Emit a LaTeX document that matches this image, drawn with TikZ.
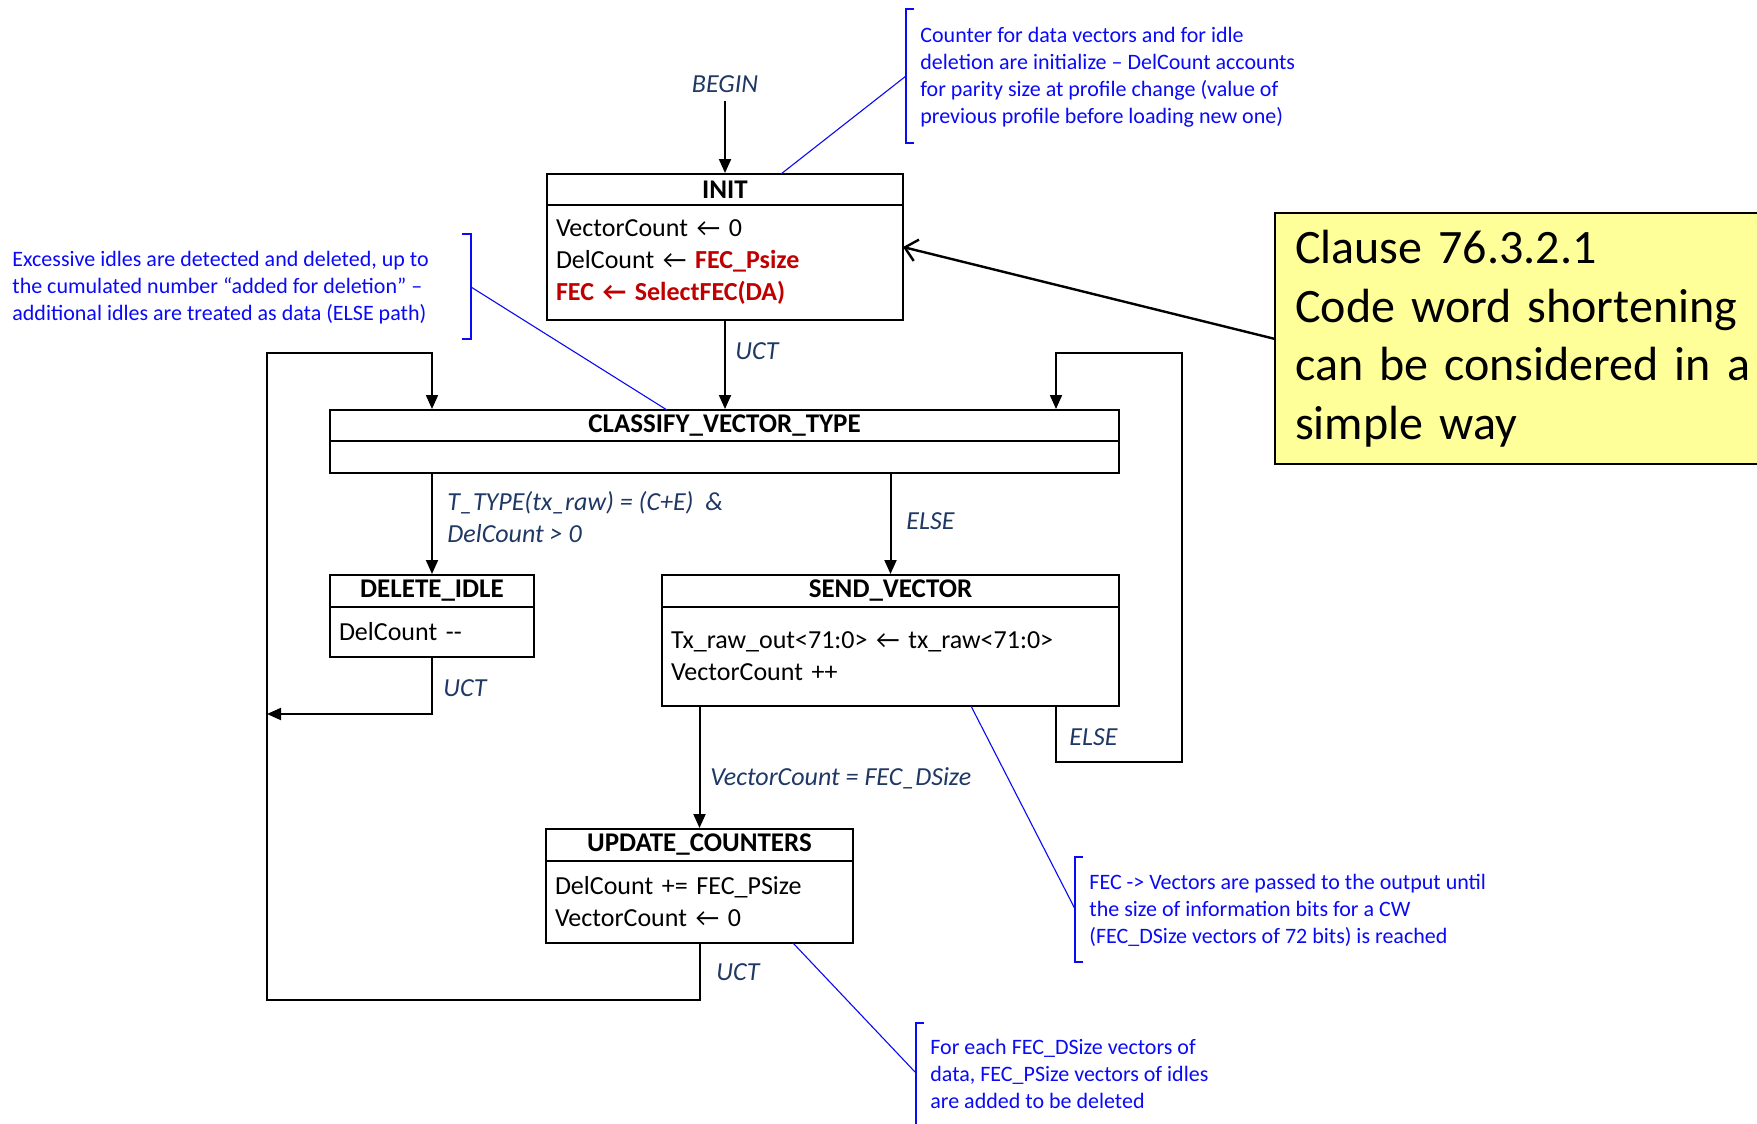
\documentclass[tikz,border=0pt]{standalone}
\usepackage{fontspec}
\setmainfont{Carlito}
\usetikzlibrary{arrows.meta,calc}
\definecolor{lblue}{RGB}{31,56,100}
\definecolor{ablue}{RGB}{10,10,245}
\definecolor{fecred}{RGB}{192,0,0}
\definecolor{yel}{RGB}{255,255,153}
\newcommand\larr{←}
\begin{document}
\begin{tikzpicture}[x=0.5pt,y=-0.5pt,
  hdr/.style={draw, line width=1pt, inner sep=0pt, font=\fontsize{13.5}{16}\selectfont\bfseries},
  bdy/.style={draw, line width=1pt, inner xsep=4.5pt, inner ysep=0pt, align=left, font=\fontsize{13}{16}\selectfont},
  arr/.style={line width=1pt, -{Triangle[length=7pt,width=6pt]}},
  lbl/.style={font=\fontsize{13}{16}\selectfont\itshape, text=lblue, inner sep=0pt, align=left},
  ann/.style={font=\fontsize{11}{13.5}\selectfont, text=ablue, inner sep=0pt, align=left},
  lead/.style={draw=ablue, line width=0.55pt},
]
\useasboundingbox (0,0) rectangle (1757,1124);

% ---------- states ----------
\node[hdr, minimum width=178pt, minimum height=15.5pt] (initH) at (725,189.5) {INIT};
\node[bdy, minimum width=178pt, minimum height=57.5pt, text width=169pt] (initB) at (725,262.5)
  {VectorCount \larr{} 0\\DelCount \larr{} {\color{fecred}\bfseries FEC\_Psize}\\{\color{fecred}\bfseries FEC \larr{} SelectFEC(DA)}};

\node[hdr, minimum width=394.5pt, minimum height=15.5pt] (clsH) at (724.5,425.5) {CLASSIFY\_VECTOR\_TYPE};
\node[bdy, minimum width=394.5pt, minimum height=16pt] (clsB) at (724.5,457) {};

\node[hdr, minimum width=102pt, minimum height=16pt] (delH) at (432,591) {DELETE\_IDLE};
\node[bdy, minimum width=102pt, minimum height=25pt, text width=93pt] (delB) at (432,632) {DelCount -{}-};

\node[hdr, minimum width=228.5pt, minimum height=16pt] (svH) at (890.5,591) {SEND\_VECTOR};
\node[bdy, minimum width=228.5pt, minimum height=49.5pt, text width=219.5pt] (svB) at (890.5,656.5)
  {Tx\_raw\_out<71:0> \larr{} tx\_raw<71:0>\\VectorCount ++};

\node[hdr, minimum width=153.5pt, minimum height=16pt] (updH) at (699.5,845) {UPDATE\_COUNTERS};
\node[bdy, minimum width=153.5pt, minimum height=41pt, text width=144.5pt] (updB) at (699.5,902)
  {DelCount += FEC\_PSize\\VectorCount \larr{} 0};

% ---------- transitions ----------
\node[lbl, inner ysep=4pt] (begin) at (725,84) {BEGIN};
\draw[arr] (begin.south) -- (initH.north);

\draw[arr] (initB.south) -- (initB.south |- clsH.north);
\node[lbl, anchor=west] (uct1) at (735,351) {UCT};

\draw[arr] (delH.north |- clsB.south) -- (delH.north);
\node[lbl, anchor=west] (cond1) at (447,517) {T\_TYPE(tx\_raw) = (C+E)\ \ \&\\DelCount > 0};

\draw[arr] (svH.north |- clsB.south) -- (svH.north);
\node[lbl, anchor=west] (else1) at (906,521) {ELSE};

\coordinate (lb) at (267,1000);
\coordinate (lt) at (432,353);
\coordinate (dj) at (267,714);
\draw[arr] (updB.south) |- (lb) |- (lt) -- (lt |- clsH.north);
\draw[arr] (delB.south) |- (dj);
\node[lbl, anchor=west] (uct2) at (443,688) {UCT};
\node[lbl, anchor=west] (uct3) at (716,972) {UCT};

\coordinate (rb) at (1182,762);
\coordinate (rt) at (1056,353);
\draw[arr] (svB.south -| rt) |- (rb) |- (rt) -- (rt |- clsH.north);
\node[lbl, anchor=west] (else2) at (1069,737) {ELSE};

\draw[arr] (updH.north |- svB.south) -- (updH.north);
\node[lbl, anchor=west] (cond2) at (710,778) {VectorCount = FEC\_DSize};

% ---------- yellow note ----------
\node[draw, line width=1.2pt, fill=yel, minimum width=250pt, minimum height=125.5pt, anchor=north west,
  inner xsep=10pt, inner ysep=0pt, text width=230pt, align=left, font=\fontsize{24}{29.3}\selectfont]
  (clause) at (1274,212) {Clause 76.3.2.1\\Code word shortening\\can be considered in a\\simple way};
\coordinate (ia) at (903,247);
\draw[line width=1.2pt, -{Straight Barb[length=6pt,width=11pt]}] (clause.west) -- (ia);

% ---------- blue annotations ----------
\node[ann, anchor=west] (a1) at (920,77) {Counter for data vectors and for idle\\deletion are initialize – DelCount accounts\\for parity size at profile change (value of\\previous profile before loading new one)};
\draw[lead] (914,9) -- (906,9) -- (906,143) -- (914,143);
\coordinate (l1a) at (781,174);
\coordinate (l1b) at (906,76);
\draw[lead] (l1a) -- (l1b);

\node[ann, anchor=west] (a2) at (12,288) {Excessive idles are detected and deleted, up to\\the cumulated number “added for deletion” –\\additional idles are treated as data (ELSE path)};
\draw[lead] (462,234) -- (471,234) -- (471,339) -- (462,339);
\coordinate (l2a) at (471,287);
\coordinate (l2b) at (667,410);
\draw[lead] (l2a) -- (l2b);

\node[ann, anchor=west] (a3) at (1089,910) {FEC -> Vectors are passed to the output until\\the size of information bits for a CW\\(FEC\_DSize vectors of 72 bits) is reached};
\draw[lead] (1083,857) -- (1075,857) -- (1075,962) -- (1083,962);
\coordinate (l3a) at (971,706);
\coordinate (l3b) at (1075,909);
\draw[lead] (l3a) -- (l3b);

\node[ann, anchor=west] (a4) at (930,1074) {For each FEC\_DSize vectors of\\data, FEC\_PSize vectors of idles\\are added to be deleted};
\draw[lead] (924,1023) -- (916,1023) -- (916,1130);
\coordinate (l4a) at (793,943);
\coordinate (l4b) at (916,1073);
\draw[lead] (l4a) -- (l4b);
\end{tikzpicture}
\end{document}
